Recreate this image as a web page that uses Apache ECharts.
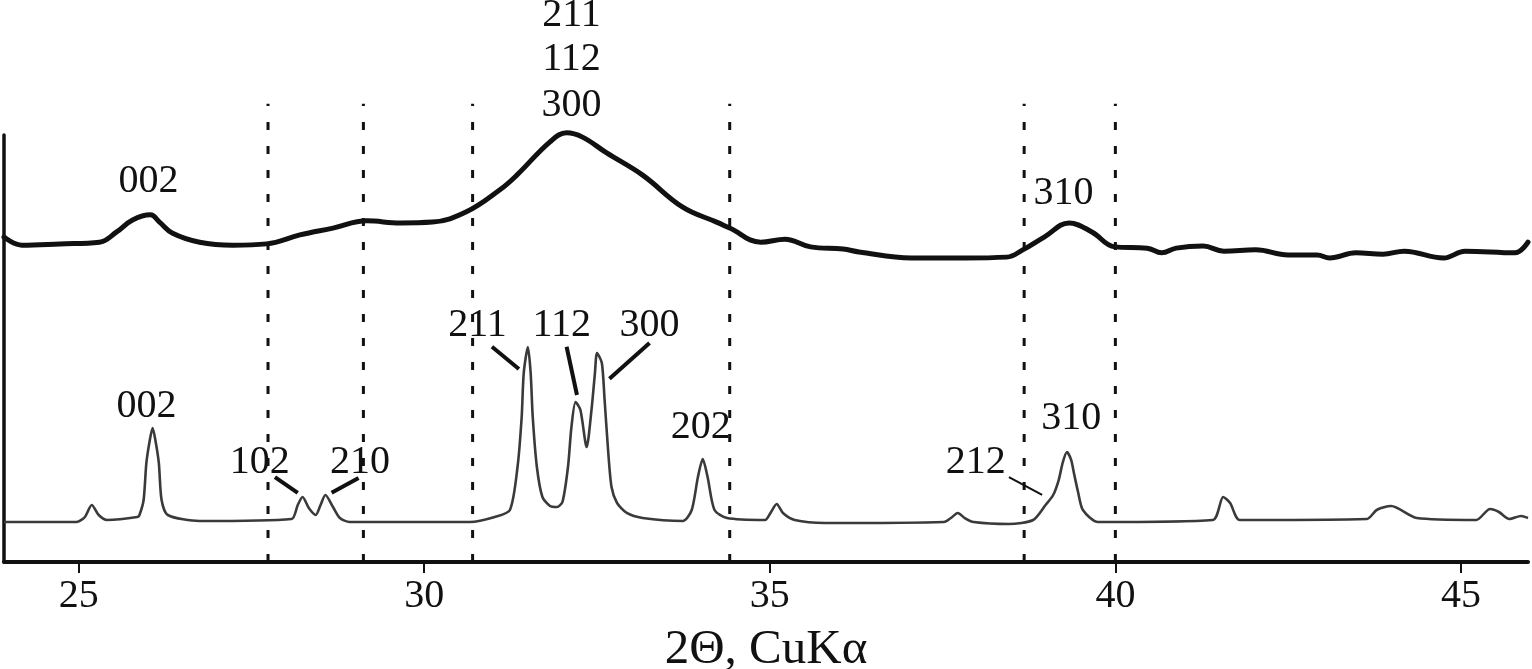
<!DOCTYPE html>
<html>
<head>
<meta charset="utf-8">
<script src="https://cdn.jsdelivr.net/npm/echarts@6/dist/echarts.min.js"></script>
<style>
html,body{margin:0;padding:0;background:#fff;}
#chart{width:1532px;height:669px;}
</style>
</head>
<body>
<div id="chart"></div>
<script>
// ---- data (2θ in degrees, intensity in arbitrary units) ----
const topTheta = [23.92,24.18,24.73,25.30,25.55,25.78,26.04,26.17,26.36,26.75,27.23,27.72,28.20,28.68,29.17,29.65,30.12,30.61,31.09,31.34,31.82,32.06,32.29,32.64,33.16,33.74,34.23,34.42,34.87,35.22,35.59,36.06,36.29,37.05,37.82,38.43,38.66,38.97,39.33,39.66,39.99,40.46,40.67,40.88,41.27,41.57,42.03,42.50,42.92,43.10,43.48,43.87,44.18,44.75,45.06,45.78,45.97];
const topIntensity = [76.1,74.2,74.5,74.9,77.3,80.1,81.3,79.6,77.0,74.9,74.2,74.5,76.6,78.2,79.9,79.4,79.6,82.0,87.1,90.6,98.4,100.5,99.5,95.8,90.6,83.1,79.6,78.2,74.9,75.6,73.8,73.3,72.6,71.2,71.2,71.4,73.1,76.1,79.4,77.3,73.8,73.5,72.4,73.5,74.0,72.8,73.1,71.9,71.9,71.2,72.4,72.1,72.8,71.2,72.8,72.4,74.9];

const botTheta = [23.92,24.97,25.09,25.19,25.29,25.41,25.85,25.88,25.94,25.98,26.03,26.07,26.11,26.16,26.20,26.29,26.75,28.08,28.17,28.24,28.33,28.43,28.50,28.57,28.68,28.78,28.92,30.66,31.02,31.24,31.35,31.41,31.44,31.50,31.54,31.57,31.63,31.71,31.82,31.92,32.00,32.08,32.13,32.19,32.26,32.35,32.42,32.47,32.50,32.57,32.61,32.66,32.71,32.79,32.93,33.16,33.74,33.87,33.96,34.03,34.10,34.20,34.38,34.93,35.01,35.10,35.19,35.36,35.80,37.52,37.62,37.72,37.82,37.95,38.46,38.81,38.99,39.10,39.18,39.24,39.30,39.36,39.40,39.46,39.53,39.75,41.41,41.56,41.66,41.80,43.64,43.78,43.99,44.36,45.22,45.42,45.55,45.70,45.87,45.97];
const botIntensity = [9.37,9.37,10.54,13.35,11.01,9.84,10.54,11.01,14.52,23.19,28.57,31.38,28.57,23.19,14.52,11.01,9.60,10.07,13.35,15.22,12.65,11.01,13.35,15.69,12.88,10.30,9.37,9.37,10.54,12.18,22.25,33.96,44.26,50.35,44.26,33.96,22.25,15.22,13.11,12.88,14.05,22.25,31.62,37.47,35.60,26.93,35.60,44.26,48.95,46.60,37.94,26.23,17.56,13.82,11.48,10.30,9.60,12.18,19.91,24.12,19.91,12.18,10.30,9.84,11.48,13.58,11.48,9.84,9.13,9.37,10.30,11.48,10.30,9.37,8.90,9.84,13.35,15.69,19.20,23.40,25.76,23.90,20.84,16.40,12.18,9.37,9.84,15.22,13.82,9.84,10.07,12.18,13.11,10.30,9.84,12.41,11.71,10.07,10.77,10.30];

const dividerTheta = [27.74, 29.12, 30.70, 34.42, 38.68, 40.0];
const dividerTop = 107.3;

const xTicks = [25, 30, 35, 40, 45];
const xName = '2Θ, CuKα';

const labelText  = ['002','211','112','300','310','002','102','210','211','112','300','202','212','310'];
const labelTheta = [26.01,32.13,32.13,32.13,39.25,25.98,27.62,29.07,30.77,31.99,33.26,34.00,37.98,39.36];
const labelInt   = [89.2,128.1,117.6,107.0,86.2,36.5,23.4,23.4,55.5,55.5,55.5,31.6,23.4,33.7];

// leader lines: [theta1, int1, theta2, int2]
const leaderThick = [
  [27.84,19.9,28.17,16.2],
  [28.66,16.2,29.05,19.7],
  [30.98,50.4,31.37,45.2],
  [32.06,50.4,32.21,39.1],
  [33.26,51.3,32.68,42.9]
];
const leaderThin = [[38.46,19.9,38.94,15.7]];

// ---- chart ----
const serif = '"Liberation Serif","DejaVu Serif",serif';
const zip = (a,b)=>a.map((v,i)=>[v,b[i]]);
const series = [];

dividerTheta.forEach(t=>{
  series.push({type:'line', data:[[t,0],[t,dividerTop]], clip:false, symbol:'none', silent:true,
    lineStyle:{color:'#111', width:3, type:[8,16]}, z:1});
});

series.push({type:'line', data:zip(topTheta, topIntensity), symbol:'none', smooth:0.4, clip:false,
  lineStyle:{color:'#111', width:5, cap:'round', join:'round'}, z:3});
series.push({type:'line', data:zip(botTheta, botIntensity), symbol:'none', smooth:0.25, clip:false,
  lineStyle:{color:'#3a3a3a', width:2.6, join:'round'}, z:3});

leaderThick.forEach(l=>{
  series.push({type:'line', data:[[l[0],l[1]],[l[2],l[3]]], symbol:'none', clip:false, silent:true,
    lineStyle:{color:'#111', width:4}, z:4});
});
leaderThin.forEach(l=>{
  series.push({type:'line', data:[[l[0],l[1]],[l[2],l[3]]], symbol:'none', clip:false, silent:true,
    lineStyle:{color:'#111', width:2}, z:4});
});

series.push({type:'scatter', symbolSize:0, clip:false, silent:true, z:5,
  itemStyle:{opacity:1},
  data: labelText.map((t,i)=>({name:t, value:[labelTheta[i], labelInt[i]]})),
  label:{show:true, position:'inside', formatter:'{b}', color:'#111', opacity:1, fontFamily:serif, fontSize:40}
});

const chart = echarts.init(document.getElementById('chart'), null, {renderer:'canvas'});
chart.setOption({
  animation:false,
  backgroundColor:'#fff',
  grid:{left:4, right:4, top:135, bottom:107, containLabel:false, outerBoundsMode:'none'},
  xAxis:{
    type:'value', min:23.92, max:45.97,
    name:xName, nameLocation:'middle', nameGap:64,
    nameTextStyle:{fontFamily:serif, fontSize:49, color:'#111'},
    axisLine:{show:true, onZero:false, lineStyle:{color:'#111', width:4}},
    axisTick:{show:true, inside:false, length:11, customValues:xTicks, lineStyle:{color:'#111', width:2}},
    axisLabel:{show:true, customValues:xTicks, margin:14, fontFamily:serif, fontSize:40, color:'#111'},
    splitLine:{show:false}
  },
  yAxis:{
    type:'value', min:0, max:100,
    axisLine:{show:true, lineStyle:{color:'#111', width:3.5}},
    axisTick:{show:false}, axisLabel:{show:false}, splitLine:{show:false}
  },
  series: series
});
</script>
</body>
</html>
